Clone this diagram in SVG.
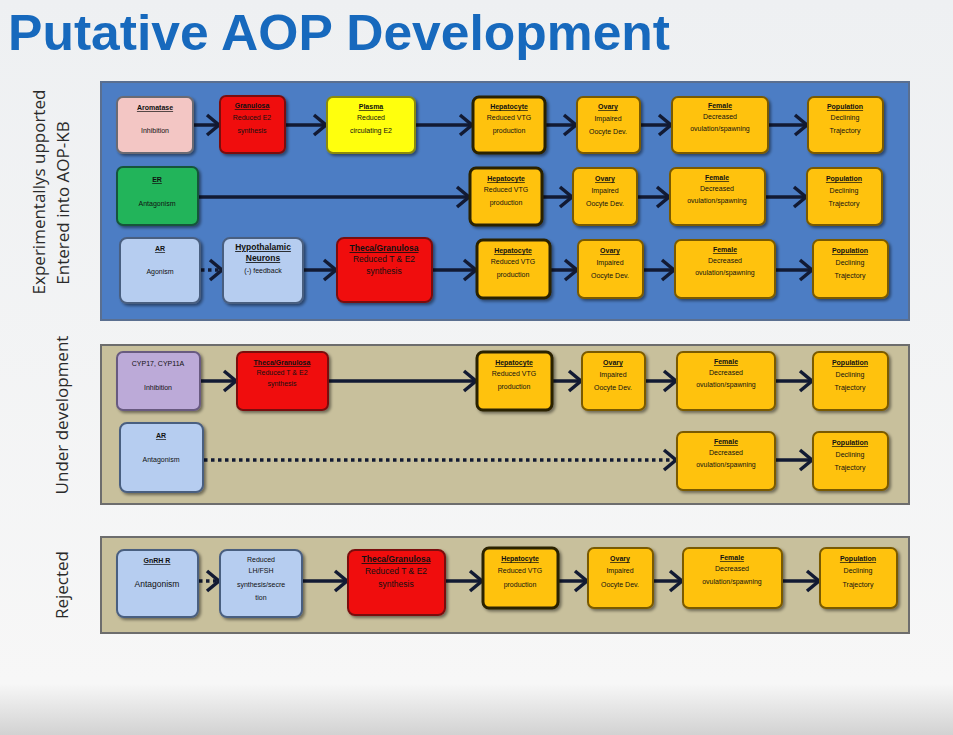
<svg xmlns="http://www.w3.org/2000/svg" width="953" height="735" viewBox="0 0 953 735">
<defs>
<linearGradient id="bg" x1="0" y1="0" x2="0" y2="1">
<stop offset="0" stop-color="#eef0f2"/><stop offset="0.93" stop-color="#f7f7f7"/><stop offset="1" stop-color="#d2d2d2"/>
</linearGradient>
<filter id="sh" x="-10%" y="-10%" width="130%" height="130%">
<feDropShadow dx="2" dy="2" stdDeviation="1.5" flood-color="#000" flood-opacity="0.45"/>
</filter>
<marker id="ah" markerUnits="userSpaceOnUse" markerWidth="18" markerHeight="24" refX="14" refY="12" orient="auto">
<path d="M2,2 L14,12 L2,22" fill="none" stroke="#121a33" stroke-width="3.5" stroke-linejoin="miter"/>
</marker>
</defs>
<style>
.title{font-family:"Liberation Sans",Arial,sans-serif;font-weight:bold;font-size:50px;fill:#1769bd}
.side{font-family:"Open Sans","Liberation Sans",sans-serif;font-size:17px;fill:#2a2a2a}
.pb{fill:#4c7dc4;stroke:#5a6f90;stroke-width:2}
.pt{fill:#c8c09c;stroke:#6d6d6d;stroke-width:2}
.bx{stroke-width:2;filter:url(#sh)}
.pink{fill:#f3c6c4;stroke:#6b6b73}
.red{fill:#f01010;stroke:#7a1010}
.yel{fill:#ffff10;stroke:#8a8a10}
.gold{fill:#ffc20e;stroke:#7a5a00}
.hep{fill:#ffc20e;stroke:#2a2000;stroke-width:3}
.grn{fill:#22b45a;stroke:#14553a}
.lb{fill:#b6cdf0;stroke:#4a5f80}
.pur{fill:#bcaad8;stroke:#675a80}
.t{font-family:"Liberation Sans",Arial,sans-serif;font-size:7px;fill:#111;text-anchor:middle}
.h{font-weight:bold;text-decoration:underline}
.tb{font-size:8.5px}
.c{fill:none;stroke:#121a33;stroke-width:3.5;marker-end:url(#ah)}
.d{stroke-dasharray:3.5 3.5}
</style>
<rect x="0" y="0" width="953" height="735" fill="url(#bg)"/>
<text class="title" x="8" y="50" textLength="662" lengthAdjust="spacingAndGlyphs">Putative AOP Development</text>
<text class="side" transform="translate(45,192) rotate(-90)" text-anchor="middle">Experimentallys upported</text>
<text class="side" transform="translate(69,203) rotate(-90)" text-anchor="middle">Entered into AOP-KB</text>
<text class="side" transform="translate(68,415) rotate(-90)" text-anchor="middle">Under development</text>
<text class="side" transform="translate(68,585) rotate(-90)" text-anchor="middle">Rejected</text>
<g id="panel-supported"><rect class="pb" x="101" y="82" width="808" height="238"/></g>
<g id="panel-development"><rect class="pt" x="101" y="345" width="808" height="159"/></g>
<g id="panel-rejected"><rect class="pt" x="101" y="537" width="808" height="96"/></g>
<g id="connectors">
<line class="c" x1="194" y1="125" x2="219" y2="125"/>
<line class="c" x1="286" y1="125" x2="326" y2="125"/>
<line class="c" x1="416" y1="125" x2="472" y2="125"/>
<line class="c" x1="546" y1="125" x2="576" y2="125"/>
<line class="c" x1="641" y1="125" x2="671" y2="125"/>
<line class="c" x1="769" y1="125" x2="807" y2="125"/>
<line class="c" x1="199" y1="197" x2="469" y2="197"/>
<line class="c" x1="543" y1="197" x2="572" y2="197"/>
<line class="c" x1="638" y1="197" x2="669" y2="197"/>
<line class="c" x1="766" y1="197" x2="806" y2="197"/>
<line class="c d" x1="201" y1="270" x2="222" y2="270"/>
<line class="c" x1="304" y1="270" x2="336" y2="270"/>
<line class="c" x1="433" y1="270" x2="476" y2="270"/>
<line class="c" x1="551" y1="270" x2="577" y2="270"/>
<line class="c" x1="644" y1="270" x2="674" y2="270"/>
<line class="c" x1="776" y1="270" x2="812" y2="270"/>
<line class="c" x1="201" y1="381" x2="236" y2="381"/>
<line class="c" x1="329" y1="381" x2="476" y2="381"/>
<line class="c" x1="553" y1="381" x2="581" y2="381"/>
<line class="c" x1="646" y1="381" x2="676" y2="381"/>
<line class="c" x1="776" y1="381" x2="812" y2="381"/>
<line class="c d" x1="204" y1="460" x2="676" y2="460"/>
<line class="c" x1="776" y1="460" x2="812" y2="460"/>
<line class="c d" x1="199" y1="581" x2="219" y2="581"/>
<line class="c" x1="303" y1="581" x2="347" y2="581"/>
<line class="c" x1="446" y1="581" x2="482" y2="581"/>
<line class="c" x1="559" y1="581" x2="587" y2="581"/>
<line class="c" x1="654" y1="581" x2="682" y2="581"/>
<line class="c" x1="783" y1="581" x2="819" y2="581"/>
</g>
<!-- Row 1 -->
<g id="r1-aromatase"><rect class="bx pink" x="117" y="97" width="76" height="56" rx="6"/><text class="t h" x="155" y="110">Aromatase</text><text class="t" x="155" y="133">Inhibition</text></g>
<g id="r1-granulosa"><rect class="bx red" x="220" y="96" width="65" height="57" rx="6"/><text class="t h" x="252" y="108">Granulosa</text><text class="t" x="252" y="120">Reduced E2</text><text class="t" x="252" y="133">synthesis</text></g>
<g id="r1-plasma"><rect class="bx yel" x="327" y="97" width="88" height="56" rx="6"/><text class="t h" x="371" y="109">Plasma</text><text class="t" x="371" y="120">Reduced</text><text class="t" x="371" y="133">circulating E2</text></g>
<g id="r1-hepatocyte"><rect class="bx hep" x="473" y="97" width="72" height="56" rx="6"/><text class="t h" x="509" y="109">Hepatocyte</text><text class="t" x="509" y="120">Reduced VTG</text><text class="t" x="509" y="133">production</text></g>
<g id="r1-ovary"><rect class="bx gold" x="577" y="97" width="63" height="56" rx="6"/><text class="t h" x="608" y="109">Ovary</text><text class="t" x="608" y="121">Impaired</text><text class="t" x="608" y="134">Oocyte Dev.</text></g>
<g id="r1-female"><rect class="bx gold" x="672" y="97" width="96" height="56" rx="6"/><text class="t h" x="720" y="108">Female</text><text class="t" x="720" y="119">Decreased</text><text class="t" x="720" y="131">ovulation/spawning</text></g>
<g id="r1-population"><rect class="bx gold" x="808" y="97" width="75" height="56" rx="6"/><text class="t h" x="845" y="109">Population</text><text class="t" x="845" y="120">Declining</text><text class="t" x="845" y="133">Trajectory</text></g>
<!-- Row 2 -->
<g id="r2-er"><rect class="bx grn" x="117" y="167" width="81" height="58" rx="6"/><text class="t h" x="157" y="182">ER</text><text class="t" x="157" y="206">Antagonism</text></g>
<g id="r2-hepatocyte"><rect class="bx hep" x="470" y="168" width="72" height="57" rx="6"/><text class="t h" x="506" y="181">Hepatocyte</text><text class="t" x="506" y="192">Reduced VTG</text><text class="t" x="506" y="205">production</text></g>
<g id="r2-ovary"><rect class="bx gold" x="573" y="168" width="64" height="57" rx="6"/><text class="t h" x="605" y="181">Ovary</text><text class="t" x="605" y="193">Impaired</text><text class="t" x="605" y="206">Oocyte Dev.</text></g>
<g id="r2-female"><rect class="bx gold" x="670" y="168" width="95" height="57" rx="6"/><text class="t h" x="717" y="180">Female</text><text class="t" x="717" y="191">Decreased</text><text class="t" x="717" y="203">ovulation/spawning</text></g>
<g id="r2-population"><rect class="bx gold" x="807" y="168" width="75" height="57" rx="6"/><text class="t h" x="844" y="181">Population</text><text class="t" x="844" y="193">Declining</text><text class="t" x="844" y="206">Trajectory</text></g>
<!-- Row 3 -->
<g id="r3-ar"><rect class="bx lb" x="120" y="238" width="80" height="65" rx="7"/><text class="t h" x="160" y="251">AR</text><text class="t" x="160" y="274">Agonism</text></g>
<g id="r3-hypothalamic"><rect class="bx lb" x="223" y="238" width="80" height="65" rx="7"/><text class="t h tb" x="263" y="250">Hypothalamic</text><text class="t h tb" x="263" y="261">Neurons</text><text class="t" x="263" y="273">(-) feedback</text></g>
<g id="r3-theca"><rect class="bx red" x="337" y="238" width="95" height="64" rx="7"/><text class="t h tb" x="384" y="251">Theca/Granulosa</text><text class="t tb" x="384" y="262">Reduced T &amp; E2</text><text class="t tb" x="384" y="274">synthesis</text></g>
<g id="r3-hepatocyte"><rect class="bx hep" x="477" y="240" width="73" height="58" rx="6"/><text class="t h" x="513" y="253">Hepatocyte</text><text class="t" x="513" y="264">Reduced VTG</text><text class="t" x="513" y="277">production</text></g>
<g id="r3-ovary"><rect class="bx gold" x="578" y="240" width="65" height="58" rx="6"/><text class="t h" x="610" y="253">Ovary</text><text class="t" x="610" y="265">Impaired</text><text class="t" x="610" y="278">Oocyte Dev.</text></g>
<g id="r3-female"><rect class="bx gold" x="675" y="240" width="100" height="58" rx="6"/><text class="t h" x="725" y="252">Female</text><text class="t" x="725" y="263">Decreased</text><text class="t" x="725" y="275">ovulation/spawning</text></g>
<g id="r3-population"><rect class="bx gold" x="813" y="240" width="75" height="58" rx="6"/><text class="t h" x="850" y="253">Population</text><text class="t" x="850" y="265">Declining</text><text class="t" x="850" y="278">Trajectory</text></g>
<!-- Panel 2 -->
<g id="d1-cyp"><rect class="bx pur" x="117" y="352" width="83" height="58" rx="6"/><text class="t" x="158" y="366">CYP17, CYP11A</text><text class="t" x="158" y="390">Inhibition</text></g>
<g id="d1-theca"><rect class="bx red" x="237" y="352" width="91" height="58" rx="6"/><text class="t h" x="282" y="365">Theca/Granulosa</text><text class="t" x="282" y="375">Reduced T &amp; E2</text><text class="t" x="282" y="386">synthesis</text></g>
<g id="d1-hepatocyte"><rect class="bx hep" x="477" y="352" width="75" height="58" rx="6"/><text class="t h" x="514" y="365">Hepatocyte</text><text class="t" x="514" y="376">Reduced VTG</text><text class="t" x="514" y="389">production</text></g>
<g id="d1-ovary"><rect class="bx gold" x="582" y="352" width="63" height="58" rx="6"/><text class="t h" x="613" y="365">Ovary</text><text class="t" x="613" y="377">Impaired</text><text class="t" x="613" y="390">Oocyte Dev.</text></g>
<g id="d1-female"><rect class="bx gold" x="677" y="352" width="98" height="58" rx="6"/><text class="t h" x="726" y="364">Female</text><text class="t" x="726" y="375">Decreased</text><text class="t" x="726" y="387">ovulation/spawning</text></g>
<g id="d1-population"><rect class="bx gold" x="813" y="352" width="75" height="58" rx="6"/><text class="t h" x="850" y="365">Population</text><text class="t" x="850" y="377">Declining</text><text class="t" x="850" y="390">Trajectory</text></g>
<g id="d2-ar"><rect class="bx lb" x="120" y="423" width="83" height="69" rx="7"/><text class="t h" x="161" y="438">AR</text><text class="t" x="161" y="462">Antagonism</text></g>
<g id="d2-female"><rect class="bx gold" x="677" y="432" width="98" height="58" rx="6"/><text class="t h" x="726" y="444">Female</text><text class="t" x="726" y="455">Decreased</text><text class="t" x="726" y="467">ovulation/spawning</text></g>
<g id="d2-population"><rect class="bx gold" x="813" y="432" width="75" height="58" rx="6"/><text class="t h" x="850" y="445">Population</text><text class="t" x="850" y="457">Declining</text><text class="t" x="850" y="470">Trajectory</text></g>
<!-- Panel 3 -->
<g id="x-gnrh"><rect class="bx lb" x="117" y="550" width="81" height="67" rx="7"/><text class="t h" x="157" y="563">GnRH R</text><text class="t tb" x="157" y="587">Antagonism</text></g>
<g id="x-lhfsh"><rect class="bx lb" x="220" y="550" width="82" height="67" rx="7"/><text class="t" x="261" y="562">Reduced</text><text class="t" x="261" y="573">LH/FSH</text><text class="t" x="261" y="587">synthesis/secre</text><text class="t" x="261" y="600">tion</text></g>
<g id="x-theca"><rect class="bx red" x="348" y="550" width="97" height="65" rx="7"/><text class="t h tb" x="396" y="562">Theca/Granulosa</text><text class="t tb" x="396" y="574">Reduced T &amp; E2</text><text class="t tb" x="396" y="587">synthesis</text></g>
<g id="x-hepatocyte"><rect class="bx hep" x="483" y="548" width="75" height="60" rx="6"/><text class="t h" x="520" y="561">Hepatocyte</text><text class="t" x="520" y="573">Reduced VTG</text><text class="t" x="520" y="587">production</text></g>
<g id="x-ovary"><rect class="bx gold" x="588" y="548" width="65" height="60" rx="6"/><text class="t h" x="620" y="561">Ovary</text><text class="t" x="620" y="573">Impaired</text><text class="t" x="620" y="587">Oocyte Dev.</text></g>
<g id="x-female"><rect class="bx gold" x="683" y="548" width="99" height="60" rx="6"/><text class="t h" x="732" y="560">Female</text><text class="t" x="732" y="571">Decreased</text><text class="t" x="732" y="584">ovulation/spawning</text></g>
<g id="x-population"><rect class="bx gold" x="820" y="548" width="77" height="60" rx="6"/><text class="t h" x="858" y="561">Population</text><text class="t" x="858" y="573">Declining</text><text class="t" x="858" y="587">Trajectory</text></g>
</svg>
